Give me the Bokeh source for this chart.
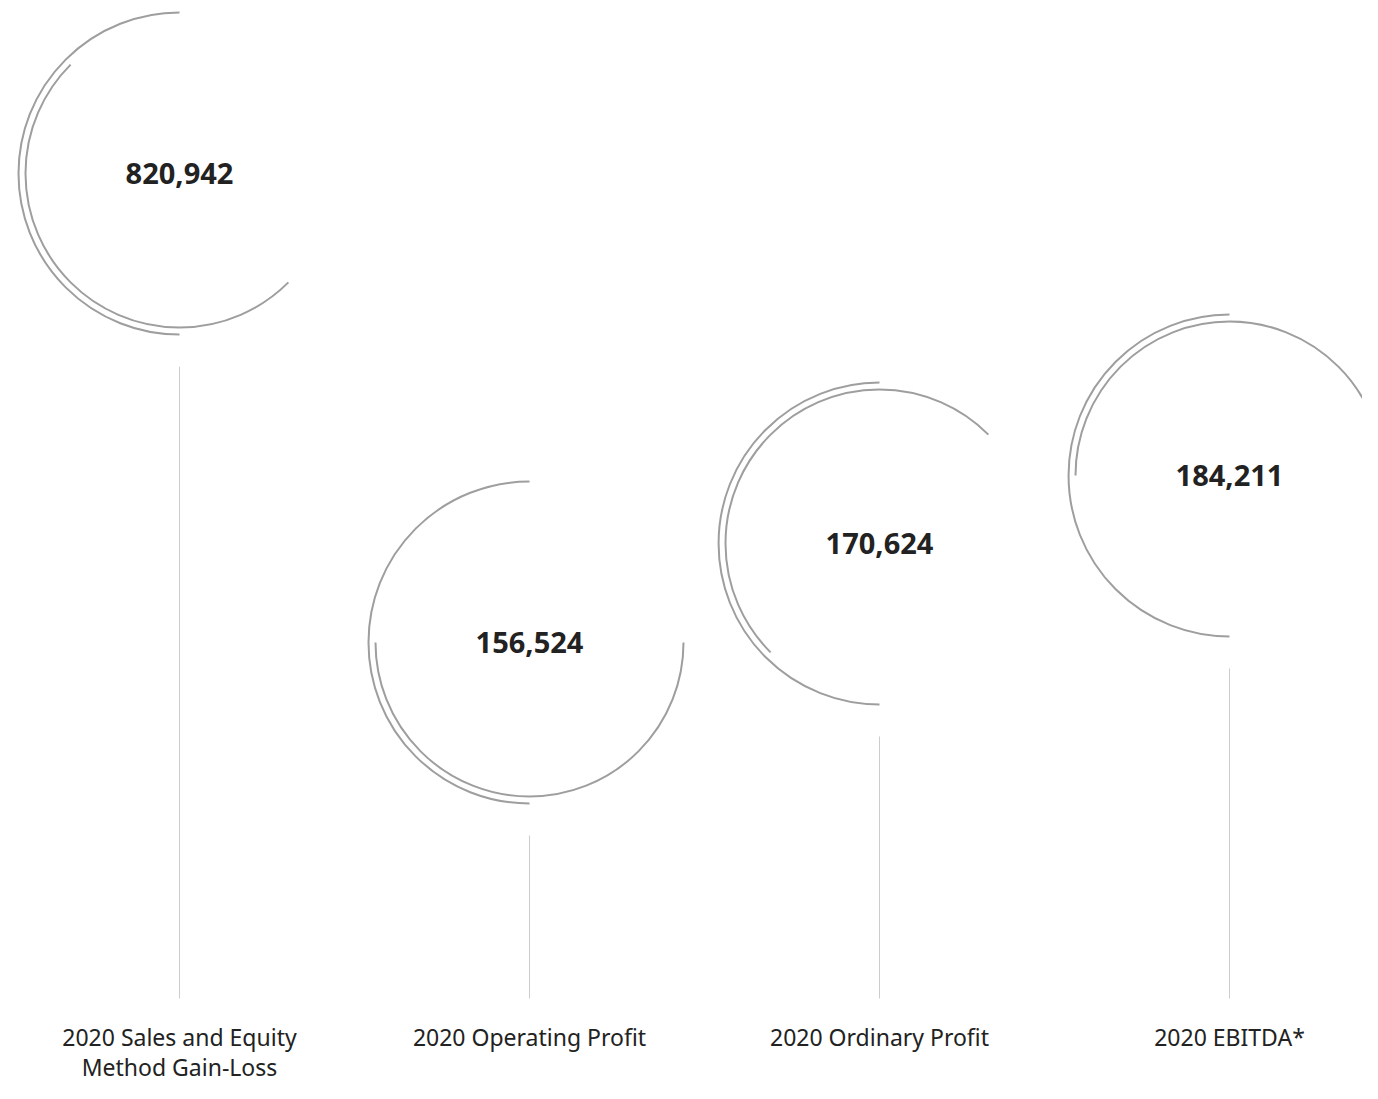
from bokeh.plotting import figure
from bokeh.models import Range1d, ColumnDataSource
from bokeh.core.properties import value
from bokeh.embed import file_html
from bokeh.resources import INLINE

# ---- data ----
categories = ["2020 Sales and Equity\nMethod Gain-Loss", "2020 Operating Profit",
              "2020 Ordinary Profit", "2020 EBITDA*"]
values = [820942, 156524, 170624, 184211]
inner_arc_start_deg = [135, 180, 45, 0]

# ---- layout (pixel space, y up) ----
W, H = 1362, 1083
x0, dx = 179, 350
center_y_top = [173, 642, 543, 475]      # distance from top edge
center_y = [H - v for v in center_y_top]
r_outer, r_inner = 161, 154
stem_gap = 193
stem_bottom = H - 998
label_y = H - 1036
label_lh = 30

cx = [x0 + i * dx for i in range(len(values))]
num_text = [f"{v:,}" for v in values]

p = figure(width=W, height=H, output_backend="svg", toolbar_location=None,
           x_range=Range1d(0, W), y_range=Range1d(0, H),
           min_border=0, background_fill_color="white", border_fill_color="white")
p.axis.visible = False
p.grid.visible = False
p.outline_line_color = None

arc_color = "#9e9e9e"
src = ColumnDataSource(dict(
    x=cx, y=center_y, txt=num_text,
    ostart=[90 for _ in cx], oend=[270 for _ in cx],
    istart=inner_arc_start_deg, iend=[a + 180 for a in inner_arc_start_deg],
    y0=[cy - stem_gap for cy in center_y], y1=[stem_bottom for _ in cx],
))

p.arc(x="x", y="y", radius=r_outer, start_angle="ostart", end_angle="oend",
      start_angle_units="deg", end_angle_units="deg", direction="anticlock",
      line_color=arc_color, line_width=2, source=src)
p.arc(x="x", y="y", radius=r_inner, start_angle="istart", end_angle="iend",
      start_angle_units="deg", end_angle_units="deg", direction="anticlock",
      line_color=arc_color, line_width=2, source=src)

p.segment(x0="x", y0="y0", x1="x", y1="y1", line_color="#cccccc", line_width=1, source=src)

p.text(x="x", y="y", text="txt", text_font=value("Noto Sans"), text_font_style="bold",
       text_font_size="29px", text_align="center", text_baseline="middle",
       text_color="#222222", source=src)

lx, ly, lt = [], [], []
for i, c in enumerate(categories):
    for j, line in enumerate(c.split("\n")):
        lx.append(cx[i]); ly.append(label_y - j * label_lh); lt.append(line)
p.text(x=lx, y=ly, text=lt, text_font=value("Noto Sans"), text_font_size="23px",
       text_align="center", text_baseline="middle", text_color="#222222")

open("out.html", "w").write(file_html(p, INLINE))
